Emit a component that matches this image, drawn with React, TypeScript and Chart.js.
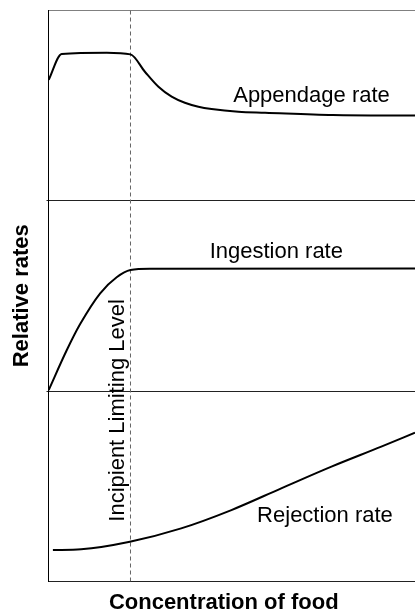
import React, { useEffect, useRef } from "react";
import { Chart, registerables } from "chart.js";

Chart.register(...registerables);

// ---- data (relative units; three stacked bands: 0-1, 1-2, 2-3) ----
const appendageX = [0.05, 3.6, 15.9, 22.37, 26.3, 30.0, 33.6, 37.2, 40.9, 44.5, 51.8, 59.1, 77.6, 100];
const appendageRate = [2.633, 2.769, 2.776, 2.767, 2.676, 2.597, 2.545, 2.513, 2.492, 2.48, 2.466, 2.461, 2.449, 2.446];

const ingestionX = [0.05, 5.0, 8.6, 14.1, 18.6, 22.37, 27.7, 100];
const ingestionRate = [1.005, 1.215, 1.35, 1.513, 1.597, 1.635, 1.642, 1.643];

const rejectionX = [1.2, 8.9, 22.2, 36.2, 49.9, 63.5, 77.2, 90.8, 100];
const rejectionRate = [0.165, 0.169, 0.209, 0.279, 0.375, 0.489, 0.603, 0.708, 0.781];

const limitingLevelX = 22.37;
const bandBoundaries = [0, 1, 2, 3];

const curveLabels = ["Appendage rate", "Ingestion rate", "Rejection rate"];
const limitLabel = "Incipient Limiting Level";
const xTitle = "Concentration of food";
const yTitle = "Relative rates";

const FONT = "'Liberation Sans', Arial, Helvetica, sans-serif";

const toPoints = (xs: number[], ys: number[]) => xs.map((x, i) => ({ x, y: ys[i] }));

const textPlugin = {
  id: "figureText",
  afterDatasetsDraw(chart: any) {
    const { ctx, chartArea, scales } = chart;
    const xs = scales.x;
    const ys = scales.y;
    const pos = [
      { x: 71.76, y: 2.519 },
      { x: 62.16, y: 1.697 },
      { x: 75.44, y: 0.311 },
    ];
    ctx.save();
    ctx.fillStyle = "#000";
    ctx.textAlign = "center";
    ctx.textBaseline = "alphabetic";
    ctx.font = `22px ${FONT}`;
    curveLabels.forEach((t, i) => {
      ctx.fillText(t, xs.getPixelForValue(pos[i].x), ys.getPixelForValue(pos[i].y));
    });
    // rotated limit label
    ctx.save();
    ctx.translate(xs.getPixelForValue(20.7), ys.getPixelForValue(0.898));
    ctx.rotate(-Math.PI / 2);
    ctx.fillText(limitLabel, 0, 0);
    ctx.restore();
    // axis titles
    ctx.font = `bold 22px ${FONT}`;
    ctx.fillText(xTitle, (chartArea.left + chartArea.right) / 2 - 8, chartArea.bottom + 27.5);
    ctx.save();
    ctx.translate(chartArea.left - 20.2, (chartArea.top + chartArea.bottom) / 2);
    ctx.rotate(-Math.PI / 2);
    ctx.fillText(yTitle, 0, 0);
    ctx.restore();
    ctx.restore();
  },
};

export default function App() {
  const canvasRef = useRef<HTMLCanvasElement | null>(null);

  useEffect(() => {
    const canvas = canvasRef.current;
    if (!canvas) return;
    const lineStyle = {
      borderColor: "#000",
      borderWidth: 2,
      pointRadius: 0,
      cubicInterpolationMode: "monotone" as const,
      fill: false,
    };
    const chart = new Chart(canvas, {
      type: "line",
      data: {
        datasets: [
          { label: curveLabels[0], data: toPoints(appendageX, appendageRate), ...lineStyle },
          { label: curveLabels[1], data: toPoints(ingestionX, ingestionRate), ...lineStyle },
          { label: curveLabels[2], data: toPoints(rejectionX, rejectionRate), ...lineStyle },
          {
            label: limitLabel,
            data: [
              { x: limitingLevelX, y: bandBoundaries[0] },
              { x: limitingLevelX, y: bandBoundaries[bandBoundaries.length - 1] },
            ],
            borderColor: "#666",
            borderWidth: 1,
            borderDash: [4, 3],
            pointRadius: 0,
            tension: 0,
          },
        ],
      },
      options: {
        animation: false,
        responsive: false,
        devicePixelRatio: 1,
        layout: { padding: { left: 46.5, top: 10, right: 0, bottom: 30.5 } },
        plugins: { legend: { display: false }, tooltip: { enabled: false } },
        scales: {
          x: {
            type: "linear",
            min: 0,
            max: 100,
            ticks: { display: false },
            grid: { display: false, drawTicks: false },
            border: { display: true, color: "#222", width: 1 },
          },
          y: {
            type: "linear",
            min: bandBoundaries[0],
            max: bandBoundaries[bandBoundaries.length - 1],
            ticks: { display: false, stepSize: 1 },
            grid: {
              drawTicks: true,
              tickLength: 2,
              lineWidth: 1,
              color: (c: any) => (c.tick && c.tick.value === 3 ? "#808080" : "#222"),
              tickColor: (c: any) =>
                c.tick && c.tick.value > 0 && c.tick.value < 3 ? "#222" : "rgba(0,0,0,0)",
            },
            border: { display: true, color: "#000", width: 1 },
          },
        },
      },
      plugins: [textPlugin],
    });
    return () => chart.destroy();
  }, []);

  return (
    <div style={{ position: "fixed", left: 0, top: 0, width: 415, height: 612, background: "#fff" }}>
      <canvas ref={canvasRef} width={415} height={612} style={{ display: "block" }} />
    </div>
  );
}
